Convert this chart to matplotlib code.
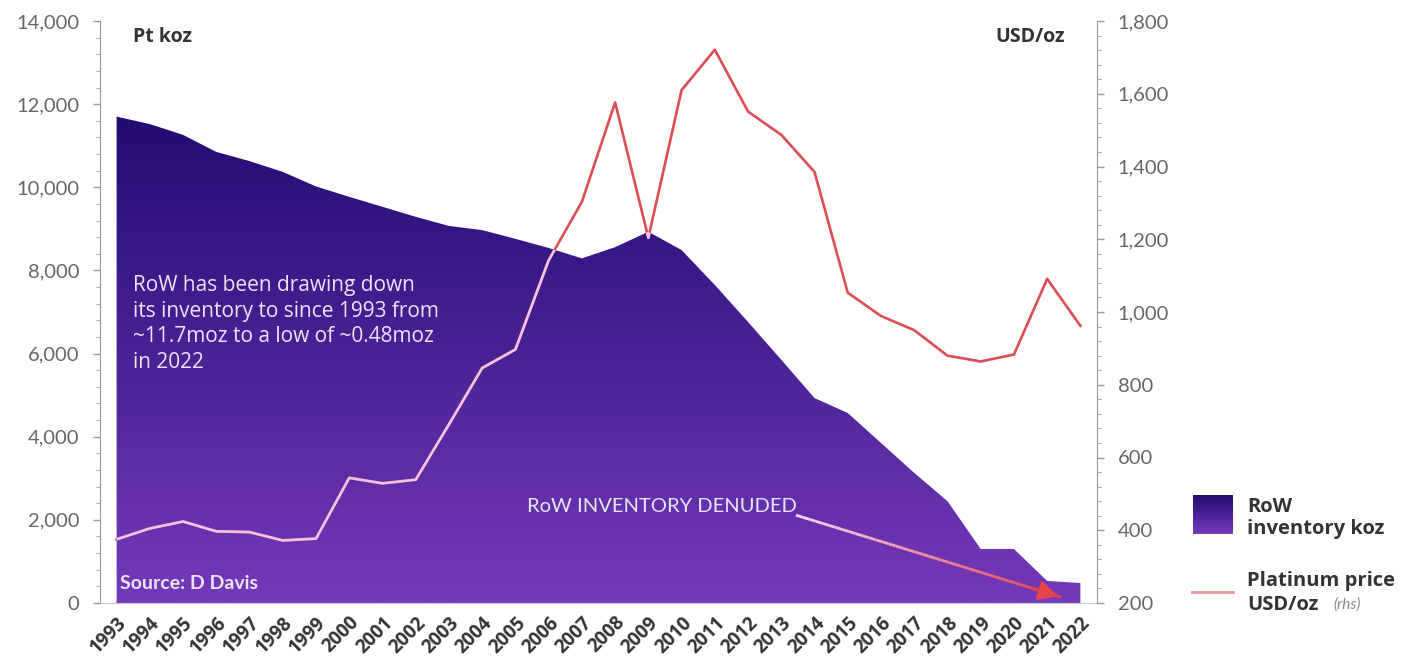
import numpy as np
import matplotlib
matplotlib.use("Agg")
import matplotlib.pyplot as plt
from matplotlib.colors import LinearSegmentedColormap
from matplotlib.collections import LineCollection
from matplotlib.ticker import MultipleLocator, FuncFormatter

plt.rcParams['font.family'] = ['Lato', 'DejaVu Sans']
wide = ['Open Sans', 'DejaVu Sans']

years = list(range(1993, 2023))
inventory = [11700, 11520, 11260, 10850, 10630, 10370, 10020, 9770, 9530, 9290,
             9070, 8970, 8760, 8540, 8290, 8560, 8930, 8490, 7650, 6760,
             5850, 4930, 4570, 3850, 3130, 2450, 1300, 1300, 530, 480]
price = [375, 405, 424, 397, 395, 372, 377, 544, 529, 539,
         691, 846, 897, 1142, 1303, 1576, 1204, 1610, 1721, 1551,
         1487, 1385, 1053, 989, 950, 880, 864, 883, 1091, 962]

dark = '#200a70'
light = '#7539bb'
red = '#dc4d55'
pink = '#f2c4e4'
grey = '#666666'
txt = '#333333'
white = '#ece4f4'

W, H = 1416, 665
fig = plt.figure(figsize=(W / 100, H / 100), dpi=100)
ax1 = fig.add_axes([100 / W, 1 - 603 / H, 997 / W, 582 / H])
ax2 = ax1.twinx()

# gradient filled area
cmap = LinearSegmentedColormap.from_list('inv', [light, dark])
poly = ax1.fill_between(years, inventory, 0, facecolor='none', edgecolor='none')
grad = np.linspace(0, 1, 256).reshape(-1, 1)
img = ax1.imshow(grad, cmap=cmap, aspect='auto', origin='lower',
                 extent=[1992.5, 2022.5, 0, 12000], zorder=1)
clip = poly.get_paths()[0]
img.set_clip_path(clip, ax1.transData)

ax1.set_xlim(1992.5, 2022.5)
ax1.set_ylim(0, 14000)
ax2.set_ylim(200, 1800)

# price line: red on white, pale pink over the area
ax2.plot(years, price, color=red, lw=1.9, zorder=3)
inner, = ax2.plot(years, price, color=pink, lw=1.9, zorder=4)
inner.set_clip_path(clip, ax1.transData)

# axes styling
for s in ['top', 'right']:
    ax1.spines[s].set_visible(False)
for s in ['top', 'left', 'bottom']:
    ax2.spines[s].set_visible(False)
ax1.spines['left'].set_color('#9a9a9a')
ax1.spines['bottom'].set_color('#c9c2d6')
ax2.spines['right'].set_color('#9a9a9a')

fmt = FuncFormatter(lambda v, p: f'{int(v):,}')
ax1.yaxis.set_major_locator(MultipleLocator(2000))
ax1.yaxis.set_minor_locator(MultipleLocator(400))
ax1.yaxis.set_major_formatter(fmt)
ax2.yaxis.set_major_locator(MultipleLocator(200))
ax2.yaxis.set_minor_locator(MultipleLocator(40))
ax2.yaxis.set_major_formatter(fmt)
for ax in (ax1, ax2):
    ax.tick_params(axis='y', which='major', length=5, width=1, color='#9a9a9a',
                   labelsize=14.5, labelcolor=grey, pad=10)
    ax.tick_params(axis='y', which='minor', length=3, width=0.8, color='#b0b0b0')

ax1.set_xticks(years)
ax1.set_xticklabels([str(y) for y in years], rotation=45, ha='right',
                    rotation_mode='anchor', fontsize=13.5, fontweight='bold',
                    color=txt, family=wide)
ax1.tick_params(axis='x', length=0, pad=7)

# labels and annotations
ax1.text(0.033, 0.972, 'Pt koz', transform=ax1.transAxes, fontsize=14,
         fontweight='bold', color=txt, va='center', ha='left', family=wide)
ax1.text(0.968, 0.972, 'USD/oz', transform=ax1.transAxes, fontsize=14,
         fontweight='bold', color=txt, va='center', ha='right', family=wide)
ax1.text(0.033, 0.564,
         'RoW has been drawing down\nits inventory to since 1993 from\n'
         '~11.7moz to a low of ~0.48moz\nin 2022',
         transform=ax1.transAxes, fontsize=15, color=white, va='top',
         ha='left', linespacing=1.3, zorder=5, family=wide)
ax1.text(0.02, 0.034, 'Source: D Davis', transform=ax1.transAxes, fontsize=14,
         fontweight='bold', color=white, va='center', ha='left', zorder=5)
ax1.text(0.428, 0.165, 'RoW INVENTORY DENUDED', transform=ax1.transAxes,
         fontsize=14.5, color=white, va='center', ha='left', zorder=5)

# arrow from label towards 2022
p0 = np.array([0.698, 0.151])
p1 = np.array([0.964, 0.010])
n = 40
pts = p0 + (p1 - p0) * np.linspace(0, 1, n + 1)[:, None]
segs = np.stack([pts[:-1], pts[1:]], axis=1)
c0 = np.array(matplotlib.colors.to_rgb('#f4d8f0'))
c1 = np.array(matplotlib.colors.to_rgb('#e8434a'))
cols = c0 + (c1 - c0) * np.linspace(0, 1, n)[:, None]
lc = LineCollection(segs, colors=cols, linewidths=2, transform=ax1.transAxes,
                    zorder=5)
ax1.add_collection(lc)
ax1.annotate('', xy=p1, xytext=p1 - (p1 - p0) * 0.12, xycoords='axes fraction',
             textcoords='axes fraction',
             arrowprops=dict(arrowstyle='-|>', color='#e8434a', lw=2,
                             mutation_scale=30), zorder=6)

# legend
lax = fig.add_axes([1193 / W, 1 - 534 / H, 40 / W, 39 / H])
lax.imshow(grad, cmap=cmap, aspect='auto', origin='lower')
lax.set_axis_off()
fig.text(1247 / W, 1 - 518 / H, 'RoW\ninventory koz', fontsize=14.5,
         fontweight='bold', color=txt, va='center', ha='left', linespacing=1.1,
         family=wide)
fig.add_artist(plt.Line2D([1192 / W, 1233 / W], [1 - 592 / H, 1 - 592 / H],
                          color=red, lw=2, alpha=0.6, transform=fig.transFigure))
fig.text(1247 / W, 1 - 581 / H, 'Platinum price', fontsize=14.5,
         fontweight='bold', color=txt, va='center', ha='left', family=wide)
fig.text(1247 / W, 1 - 605 / H, 'USD/oz', fontsize=14.5,
         fontweight='bold', color=txt, va='center', ha='left', family=wide)
fig.text(1333 / W, 1 - 605 / H, '(rhs)', fontsize=11, style='italic',
         color='#8a8a8a', va='center', ha='left')

fig.savefig('out.png', dpi=100, facecolor='white')
